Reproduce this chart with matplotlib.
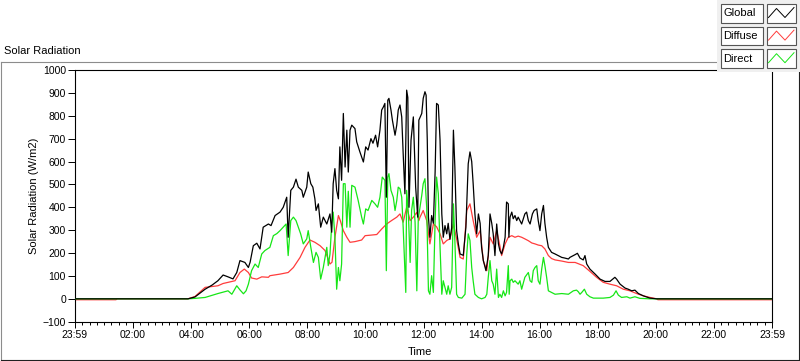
import matplotlib
matplotlib.use("Agg")
import matplotlib.pyplot as plt
from matplotlib.patches import Rectangle
from matplotlib.ticker import MultipleLocator

plt.rcParams['font.family'] = ['Liberation Sans', 'DejaVu Sans']

# time in hours after 23:59, radiation in W/m2
global_t = [0, 3.89, 4.13, 4.48, 4.72, 4.92, 5.10, 5.27, 5.44, 5.57, 5.68, 5.85, 5.97, 6.03,
            6.14, 6.26, 6.37, 6.48, 6.66, 6.75, 6.89, 6.96, 7.06, 7.17, 7.29, 7.34, 7.43,
            7.52, 7.61, 7.69, 7.81, 7.86, 7.98, 8.03, 8.12, 8.19, 8.26, 8.30, 8.38, 8.46,
            8.55, 8.67, 8.78, 8.84, 8.89, 8.95, 9.01, 9.07, 9.12, 9.18, 9.24, 9.30, 9.36,
            9.41, 9.47, 9.53, 9.64, 9.70, 9.81, 9.93, 10.01, 10.09, 10.19, 10.26, 10.35,
            10.42, 10.50, 10.56, 10.62, 10.67, 10.72, 10.77, 10.81, 10.88, 10.93, 11.02,
            11.08, 11.13, 11.19, 11.25, 11.30, 11.36, 11.42, 11.46, 11.50, 11.57, 11.65,
            11.73, 11.80, 11.84, 11.94, 11.99, 12.05, 12.09, 12.13, 12.17, 12.22, 12.28,
            12.34, 12.40, 12.45, 12.51, 12.57, 12.63, 12.68, 12.74, 12.80, 12.85, 12.91,
            12.97, 13.03, 13.08, 13.14, 13.20, 13.26, 13.37, 13.46, 13.54, 13.60, 13.66,
            13.71, 13.77, 13.83, 13.89, 13.95, 14.00, 14.06, 14.15, 14.23, 14.29, 14.35,
            14.40, 14.46, 14.52, 14.58, 14.63, 14.69, 14.75, 14.81, 14.86, 14.92, 14.94,
            14.98, 15.04, 15.09, 15.15, 15.21, 15.26, 15.38, 15.49, 15.55, 15.61, 15.67,
            15.75, 15.81, 15.90, 15.95, 16.01, 16.07, 16.13, 16.18, 16.24, 16.30, 16.41,
            16.53, 16.64, 16.76, 16.87, 16.99, 17.04, 17.22, 17.30, 17.39, 17.50, 17.56,
            17.62, 17.73, 17.91, 18.08, 18.25, 18.42, 18.59, 18.65, 18.77, 18.94, 19.05,
            19.17, 19.28, 19.40, 19.57, 19.80, 20.03, 24]
global_v = [0, 0, 8, 42, 60, 79, 104, 96, 87, 115, 167, 159, 137, 160,
            232, 243, 218, 313, 327, 320, 364, 370, 379, 400, 444, 269, 474,
            488, 523, 488, 474, 444, 488, 554, 503, 488, 437, 386, 415, 313,
            357, 327, 371, 291, 503, 569, 474, 437, 664, 518, 810, 576, 737,
            554, 737, 759, 744, 686, 642, 598, 664, 650, 700, 680, 715,
            664, 737, 825, 839, 854, 444, 868, 876, 825, 780, 715,
            760, 825, 847, 795, 635, 459, 912, 880, 400, 693, 795,
            488, 357, 781, 810, 876, 905, 890, 693, 357, 269, 364,
            330, 554, 854, 847, 693, 371, 269, 320, 284, 330, 260,
            310, 737, 576, 298, 240, 196, 190, 313, 590, 642, 600,
            503, 371, 284, 371, 330, 225, 167, 123, 189, 371, 330,
            284, 189, 327, 240, 211, 196, 225, 269, 423, 415, 269,
            357, 379, 350, 364, 342, 357, 327, 371, 379, 342, 327,
            371, 386, 393, 342, 298, 371, 408, 330, 269, 225, 203,
            196, 189, 181, 178, 174, 181, 193, 199, 178, 170, 189,
            152, 130, 108, 86, 76, 76, 94, 86, 64, 47, 42,
            35, 38, 23, 13, 3, 0, 0]

diffuse_t = [0, 1.41, 1.45, 3.89, 4.13, 4.48, 4.92, 5.10, 5.51, 5.68, 5.83, 5.97, 6.08,
             6.26, 6.43, 6.66, 6.71, 7.06, 7.34, 7.52, 7.75, 7.92, 8.09, 8.26, 8.44, 8.61,
             8.78, 8.85, 8.95, 9.07, 9.14, 9.24, 9.36, 9.47, 9.64, 9.87, 9.99, 10.16, 10.39,
             10.56, 10.73, 10.90, 11.08, 11.19, 11.30, 11.42, 11.54, 11.65, 11.77, 11.84,
             11.88, 11.99, 12.11, 12.22, 12.34, 12.45, 12.57, 12.68, 12.80, 12.91, 13.03,
             13.14, 13.26, 13.37, 13.49, 13.60, 13.71, 13.83, 13.95, 14.06, 14.18, 14.29,
             14.40, 14.52, 14.63, 14.69, 14.81, 14.92, 15.04, 15.15, 15.26, 15.38, 15.49,
             15.61, 15.73, 15.84, 15.95, 16.07, 16.18, 16.30, 16.41, 16.53, 16.76, 16.99,
             17.22, 17.50, 17.73, 17.96, 18.19, 18.42, 18.65, 18.88, 19.11, 19.34, 19.57,
             19.80, 20.03, 20.07, 24]
diffuse_v = [-4, -4, 0, 0, 10, 50, 57, 67, 79, 115, 130, 115, 91,
             86, 96, 94, 101, 108, 115, 137, 181, 225, 257, 247, 232, 211,
             152, 160, 269, 364, 340, 298, 269, 247, 250, 257, 276, 278, 281,
             305, 327, 342, 357, 371, 335, 400, 342, 357, 378, 342,
             357, 386, 342, 240, 327, 315, 284, 240, 255, 262, 327,
             262, 181, 174, 386, 415, 342, 269, 298, 167, 123, 269,
             240, 298, 232, 189, 240, 269, 276, 269, 274, 269, 262,
             254, 244, 240, 235, 232, 218, 189, 176, 170, 165, 159,
             159, 145, 120, 94, 72, 64, 57, 42, 35, 23, 13,
             6, 0, -4, -4]

direct_t = [0, 3.89, 4.13, 4.48, 4.92, 5.27, 5.40, 5.57, 5.68, 5.80, 5.89, 5.97, 6.08,
            6.20, 6.31, 6.43, 6.54, 6.71, 6.83, 6.95, 7.06, 7.17, 7.27, 7.34, 7.43, 7.52,
            7.61, 7.69, 7.77, 7.86, 7.98, 8.03, 8.12, 8.21, 8.30, 8.38, 8.46, 8.55, 8.67,
            8.72, 8.78, 8.84, 8.89, 8.95, 9.01, 9.07, 9.12, 9.18, 9.24, 9.30, 9.36, 9.41,
            9.47, 9.53, 9.64, 9.75, 9.87, 9.93, 10.01, 10.09, 10.22, 10.33, 10.42, 10.50,
            10.58, 10.67, 10.72, 10.77, 10.81, 10.88, 10.96, 11.02, 11.08, 11.13, 11.19,
            11.25, 11.30, 11.36, 11.39, 11.42, 11.48, 11.54, 11.59, 11.65, 11.71, 11.77,
            11.82, 11.88, 11.94, 11.99, 12.05, 12.11, 12.17, 12.22, 12.28, 12.34, 12.40,
            12.45, 12.51, 12.57, 12.63, 12.68, 12.74, 12.80, 12.85, 12.91, 12.97, 13.03,
            13.08, 13.14, 13.20, 13.32, 13.43, 13.49, 13.54, 13.60, 13.66, 13.71, 13.77,
            13.89, 14.00, 14.12, 14.18, 14.23, 14.29, 14.35, 14.40, 14.46, 14.52, 14.58,
            14.63, 14.69, 14.75, 14.81, 14.86, 14.92, 14.95, 14.98, 15.04, 15.09, 15.15,
            15.26, 15.32, 15.38, 15.49, 15.61, 15.67, 15.73, 15.78, 15.84, 15.90, 15.95,
            16.01, 16.07, 16.13, 16.18, 16.24, 16.30, 16.41, 16.53, 16.76, 16.99, 17.16,
            17.27, 17.33, 17.39, 17.45, 17.54, 17.62, 17.73, 17.85, 18.19, 18.42, 18.54,
            18.63, 18.71, 18.82, 19.00, 19.11, 19.28, 19.45, 19.80, 24]
direct_v = [0, 0, 2, 6, 23, 35, 20, 57, 39, 22, 35, 64, 123,
            152, 137, 196, 211, 225, 276, 285, 298, 313, 327, 189, 342, 357,
            342, 313, 284, 240, 262, 298, 225, 159, 203, 181, 86, 137, 225,
            145, 196, 327, 379, 269, 42, 137, 79, 152, 503, 503, 313, 470,
            313, 496, 488, 430, 357, 327, 393, 386, 430, 415, 400, 444,
            532, 518, 123, 532, 547, 474, 444, 386, 430, 488, 481,
            444, 313, 123, 28, 474, 371, 159, 386, 444, 335, 35,
            350, 400, 452, 503, 525, 400, 35, 20, 101, 28, 342,
            532, 459, 225, 20, 79, 50, 20, 57, 20, 50, 415,
            255, 20, 6, 3, 20, 196, 284, 255, 137, 79, 20,
            6, 0, 6, 20, 94, 167, 79, 64, 20, 130, 6,
            20, 6, 35, 13, 28, 145, 20, 79, 86, 72, 79,
            64, 79, 42, 94, 115, 79, 72, 123, 137, 145, 79,
            64, 130, 181, 145, 94, 35, 28, 20, 23, 20, 35,
            38, 31, 20, 28, 42, 20, 9, 3, 3, 6, 16,
            35, 16, 6, 9, 3, 9, 2, 0, 0]

tick_hours = list(range(0, 25, 2))
tick_labels = ['23:59', '02:00', '04:00', '06:00', '08:00', '10:00', '12:00',
               '14:00', '16:00', '18:00', '20:00', '22:00', '23:59']
legend_names = ['Global', 'Diffuse', 'Direct']
colors = ['black', '#ff3c3c', '#16e616']

W, H = 800, 361
fig = plt.figure(figsize=(W / 100, H / 100), dpi=100)
fig.patch.set_facecolor('white')

# outer panel frame (pixel coords)
ov = fig.add_axes([0, 0, 1, 1], zorder=0)
ov.set_xlim(0, W)
ov.set_ylim(H, 0)
ov.axis('off')
ov.plot([0.5, 799], [61.5, 61.5], color='#8c8c8c', lw=0.8)
ov.plot([0.5, 0.5], [61.5, 359.5], color='#8c8c8c', lw=0.8)
ov.plot([0.5, 798.5], [359.5, 359.5], color='#202020', lw=0.8)
ov.plot([798.5, 798.5], [61.5, 359.5], color='#202020', lw=0.8)
ov.text(4, 51, 'Solar Radiation', fontsize=8, va='center', ha='left')

# main chart
x0, x1, y0, y1 = 75, 772, 70, 321.7
ax = fig.add_axes([x0 / W, (H - y1) / H, (x1 - x0) / W, (y1 - y0) / H], zorder=1)
ax.set_facecolor('white')
ax.plot(diffuse_t, diffuse_v, color=colors[1], lw=0.9, zorder=2)
ax.plot(direct_t, direct_v, color=colors[2], lw=0.9, zorder=3)
ax.plot(global_t, global_v, color=colors[0], lw=0.9, zorder=4)

ax.set_xlim(0, 24)
ax.set_ylim(-100, 1000)
ax.set_xticks(tick_hours)
ax.set_xticklabels(tick_labels)
ax.xaxis.set_minor_locator(MultipleLocator(0.25))
ax.set_yticks(range(-100, 1001, 100))
ax.tick_params(axis='both', which='major', direction='out', labelsize=7.5,
               width=0.7, color='black')
ax.tick_params(axis='x', which='major', length=4.5, pad=1.5)
ax.tick_params(axis='x', which='minor', length=2.2, width=0.7)
ax.tick_params(axis='y', which='major', length=5, pad=1.5)
for s in ax.spines.values():
    s.set_linewidth(0.8)
    s.set_color('black')

ax.set_xlabel('Time', fontsize=8)
ax.xaxis.set_label_coords(0.495, -0.10)
ax.set_ylabel('Solar Radiation (W/m2)', fontsize=8)
ax.yaxis.set_label_coords(-0.052, 0.5)

# plot legend panel (pixel coords)
lg = fig.add_axes([717 / W, (H - 72) / H, 83 / W, 72 / H], zorder=5)
lg.set_xlim(717, 800)
lg.set_ylim(72, 0)
lg.axis('off')
lg.add_patch(Rectangle((717, 0), 83, 72, facecolor='#f0f0f0', edgecolor='none'))
for i, (name, c) in enumerate(zip(legend_names, colors)):
    top = 4 + i * 22.6
    lg.add_patch(Rectangle((721.5, top), 42, 18.5, facecolor='white',
                           edgecolor='#555555', lw=0.8))
    lg.add_patch(Rectangle((767, top), 29, 18.5, facecolor='white',
                           edgecolor='#555555', lw=0.8))
    lg.text(723.5, top + 9.5, name, fontsize=8, va='center', ha='left')
    lg.plot([768.5, 776.5, 785, 794], [top + 13.5, top + 4.5, top + 13.5, top + 3.5],
            color=c, lw=0.7)

fig.savefig('out.png', dpi=100)
